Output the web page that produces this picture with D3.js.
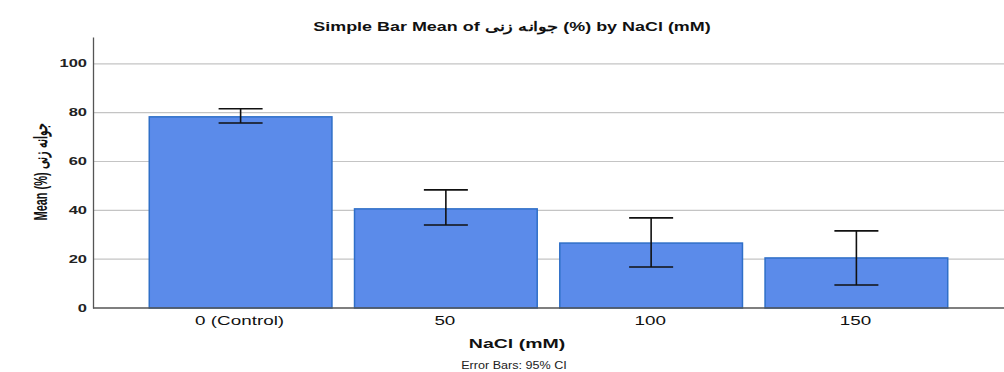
<!DOCTYPE html>
<html>
<head>
<meta charset="utf-8">
<script src="https://cdn.jsdelivr.net/npm/d3@7"></script>
<style>
  body { margin: 0; background: #fff; }
  text { font-family: "Liberation Sans", Arial, sans-serif; }
</style>
</head>
<body>
<div id="vis"></div>
<script>
// chart data
const groups = ['0 (Control)', '50', '100', '150']
const means = [78.3, 40.6, 26.6, 20.5]
const ciLow = [75.8, 34.0, 16.8, 9.4]
const ciHigh = [81.6, 48.4, 36.9, 31.6]
const yTicks = [0, 20, 40, 60, 80, 100]

const W = 1004, H = 372
const plot = { left: 93, right: 1004, top: 37, bottom: 308 }

// the source picture is stretched sideways, so text gets a horizontal scale
function label(x, y, str, opts) {
    const t = svg.append('text')
        .attr('transform', `translate(${x},${y}) scale(${opts.sx},1)` + (opts.rot ? ' rotate(-90)' : ''))
        .attr('text-anchor', opts.anchor || 'middle')
        .style('font-size', opts.size + 'px')
        .style('font-weight', opts.bold ? 'bold' : 'normal')
        .attr('fill', opts.fill || '#111')
        .text(str)
    return t
}

const svg = d3.select('#vis').append('svg')
    .attr('width', W)
    .attr('height', H)

const xScale = d3.scaleBand()
    .domain(groups)
    .range([139, 958])
    .paddingInner(0.11)
    .paddingOuter(0.05)

const yScale = d3.scaleLinear()
    .domain([0, 111])
    .range([plot.bottom, plot.top])

// gridlines
svg.append('g')
    .selectAll('line')
    .data(yTicks.filter(d => d > 0))
    .join('line')
    .attr('x1', plot.left)
    .attr('x2', plot.right)
    .attr('y1', d => yScale(d))
    .attr('y2', d => yScale(d))
    .attr('stroke', '#c4c4c4')
    .attr('stroke-width', 1.2)

// bars
svg.append('g')
    .selectAll('rect')
    .data(groups)
    .join('rect')
    .attr('x', d => xScale(d))
    .attr('y', (d, i) => yScale(means[i]))
    .attr('width', xScale.bandwidth())
    .attr('height', (d, i) => plot.bottom - yScale(means[i]))
    .attr('fill', '#5b8bea')
    .attr('stroke', '#2f6fc8')
    .attr('stroke-width', 1.5)

// error bars
const cap = 22
const eb = svg.append('g')
    .attr('stroke', '#111')
    .attr('stroke-width', 1.6)
groups.forEach((g, i) => {
    const cx = xScale(g) + xScale.bandwidth() / 2
    eb.append('line').attr('x1', cx).attr('x2', cx)
        .attr('y1', yScale(ciLow[i])).attr('y2', yScale(ciHigh[i]))
    eb.append('line').attr('x1', cx - cap).attr('x2', cx + cap)
        .attr('y1', yScale(ciLow[i])).attr('y2', yScale(ciLow[i]))
    eb.append('line').attr('x1', cx - cap).attr('x2', cx + cap)
        .attr('y1', yScale(ciHigh[i])).attr('y2', yScale(ciHigh[i]))
})

// y axis
const yAxis = d3.axisLeft(yScale).tickValues(yTicks).tickSize(0).tickFormat('')
const gy = svg.append('g')
    .attr('transform', `translate(${plot.left},0)`)
    .call(yAxis)
gy.select('.domain').attr('stroke', '#555').attr('stroke-width', 1.3)
yTicks.forEach(v => {
    label(87, yScale(v) + 3.5, String(v), { sx: 1.65, size: 10, bold: true, anchor: 'end', fill: '#222' })
})

// x axis
const xAxis = d3.axisBottom(xScale).tickSize(0).tickFormat('')
const gx = svg.append('g')
    .attr('transform', `translate(0,${plot.bottom})`)
    .call(xAxis)
gx.select('.domain').remove()
groups.forEach(g => {
    label(xScale(g) + xScale.bandwidth() / 2 - 1, 325, g, { sx: 1.45, size: 13 })
})
svg.append('line')
    .attr('x1', plot.left).attr('x2', plot.right)
    .attr('y1', plot.bottom).attr('y2', plot.bottom)
    .attr('stroke', '#555').attr('stroke-width', 1.3)

// title
label(512, 31, 'Simple Bar Mean of جوانه زنی (%) by NaCl (mM)', { sx: 1.38, size: 13, bold: true })

// axis labels
label(517, 348, 'NaCl (mM)', { sx: 1.5, size: 13, bold: true })
label(47, 172, 'Mean (%) جوانه زنی', { sx: 1.6, size: 11, bold: true, rot: true })

label(514, 369, 'Error Bars: 95% CI', { sx: 1.26, size: 10, fill: '#222' })
</script>
</body>
</html>
